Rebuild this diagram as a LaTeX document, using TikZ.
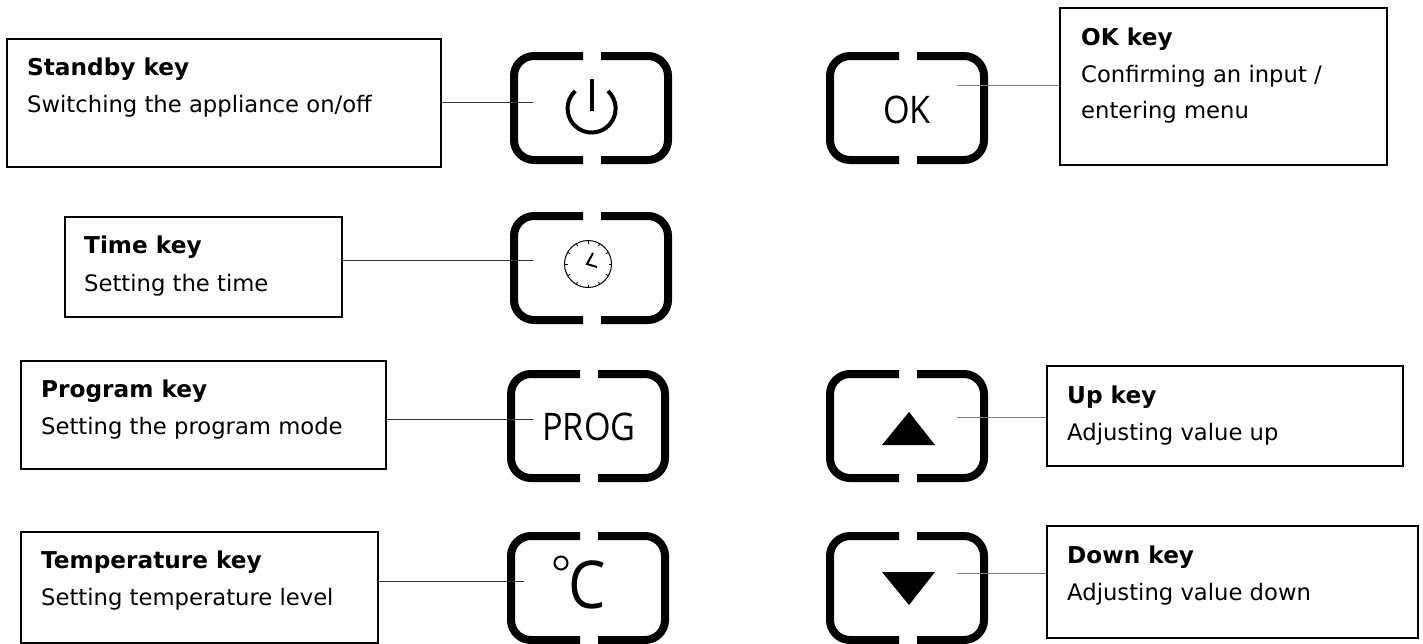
\documentclass[tikz,border=0pt]{standalone}
\usepackage{fontspec}
\setmainfont{DejaVu Sans}
\newfontfamily\capfont[FakeStretch=.9]{Open Sans}
\begin{document}
\begin{tikzpicture}[x=1pt,y=-1pt,
keybox/.style={draw,line width=1.6pt,inner sep=0pt,anchor=north west},
keyhead/.style={anchor=base west,inner sep=0pt,font=\fontsize{23.2}{28}\selectfont\bfseries},
keytext/.style={anchor=base west,inner sep=0pt,font=\fontsize{22.7}{28}\selectfont},
keylink/.style={line width=1pt,black!80},
keylinkr/.style={line width=1pt,black!50},
keycap/.style={line width=8pt,rounded corners=20pt},
capmark/.style={inner sep=0pt,anchor=base,font=\capfont\fontsize{38}{40}\selectfont}]
\useasboundingbox(0,0)rectangle(1423,643);
\foreach \x/\y in {514/56,514/216,511/374,511/536,830/56,830/374,830/536}
\draw[keycap,shift={(\x,\y)}](69,0)--(0,0)--(0,104)--(69,104) (87,0)--(154,0)--(154,104)--(87,104);

\node[keybox,minimum width=434pt,minimum height=128pt](stdbybox)at(6,38){};
\node[keyhead](stdbyhead)at(27,75){Standby key};
\node[keytext](stdbytext)at(27,112){Switching the appliance on/off};
\coordinate(stdbyend)at(533,102);
\draw[keylink](stdbybox.east|-stdbyend)--(stdbyend);

\node[keybox,minimum width=277pt,minimum height=100pt](timebox)at(64,216){};
\node[keyhead](timehead)at(84,253){Time key};
\node[keytext](timetext)at(84,291){Setting the time};
\coordinate(timeend)at(533,260);
\draw[keylink](timebox.east|-timeend)--(timeend);

\node[keybox,minimum width=365pt,minimum height=108pt](progbox)at(20,360){};
\node[keyhead](proghead)at(41,397){Program key};
\node[keytext](progtext)at(41,434){Setting the program mode};
\coordinate(progend)at(533,419);
\draw[keylink](progbox.east|-progend)--(progend);

\node[keybox,minimum width=357pt,minimum height=111pt](tempbox)at(20,531){};
\node[keyhead](temphead)at(41,568){Temperature key};
\node[keytext](temptext)at(41,605){Setting temperature level};
\coordinate(tempend)at(524,581);
\draw[keylink](tempbox.east|-tempend)--(tempend);

\node[keybox,minimum width=327pt,minimum height=157pt](okbox)at(1059,7){};
\node[keyhead](okhead)at(1081,45){OK key};
\node[keytext](oktext)at(1081,82){Confirming an input /};
\node[keytext](okmenu)at(1081,118){entering menu};
\coordinate(okend)at(957,85);
\draw[keylinkr](okbox.west|-okend)--(okend);

\node[keybox,minimum width=356pt,minimum height=100pt](upbox)at(1046,365){};
\node[keyhead](uphead)at(1067,403){Up key};
\node[keytext](uptext)at(1067,440){Adjusting value up};
\coordinate(upend)at(957,417);
\draw[keylinkr](upbox.west|-upend)--(upend);

\node[keybox,minimum width=371pt,minimum height=112pt](downbox)at(1046,525){};
\node[keyhead](downhead)at(1067,563){Down key};
\node[keytext](downtext)at(1067,600){Adjusting value down};
\coordinate(downend)at(957,573);
\draw[keylinkr](downbox.west|-downend)--(downend);

\draw[line width=4pt](592,79)--(592,111);
\draw[line width=4pt](608,91)arc(-47:227:24);

\draw[line width=1pt](588,264)circle(23.5);
\foreach \a in {0,30,...,330}
\draw[line width=.8pt](588,264)++(\a:20.5)--++(\a:3);
\draw[line width=2pt](593,253)--(587,264)--(597,267);

\node[capmark](oklabel)at(907,123){OK};
\node[capmark](proglabel)at(589,440){PROG};
\node[capmark,font=\capfont\fontsize{66}{68}\selectfont](templabel)at(587,608){C};
\draw[line width=2pt](561,563)circle(6.5);

\fill(909,412)--(935,445)--(882,445)--cycle;
\fill(909,605)--(935,572)--(882,572)--cycle;
\end{tikzpicture}
\end{document}
